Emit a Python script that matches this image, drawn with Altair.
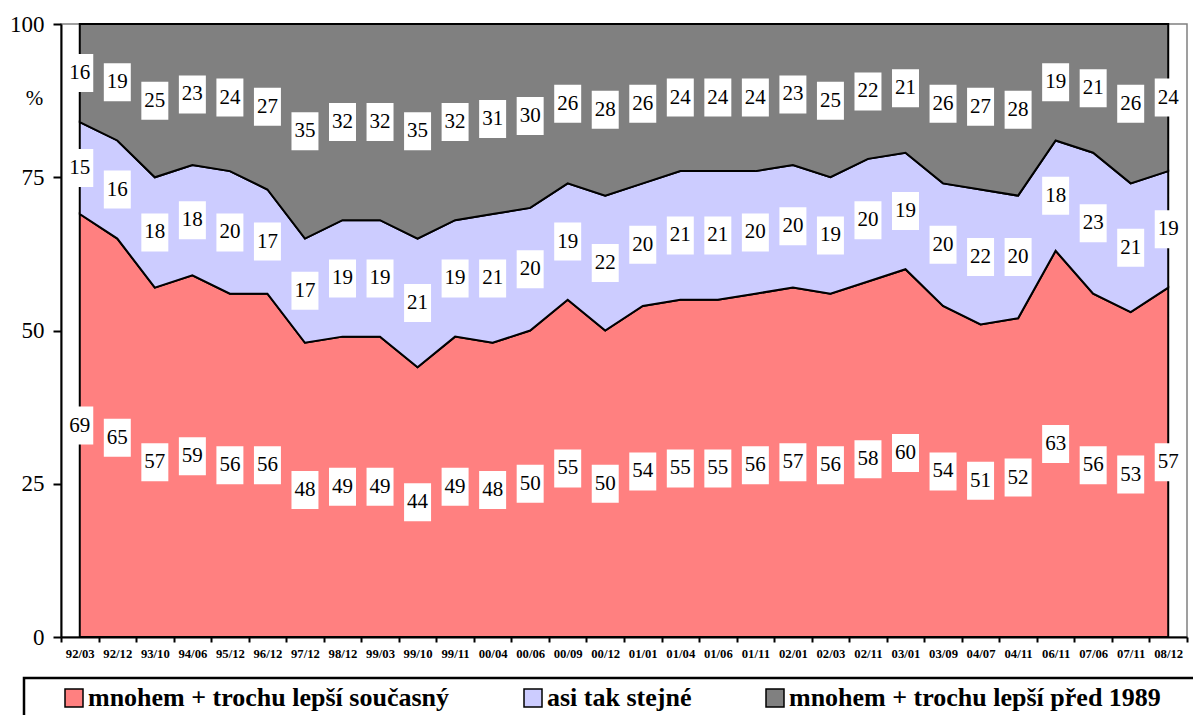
import altair as alt
import pandas as pd

dates = ["92/03", "92/12", "93/10", "94/06", "95/12", "96/12", "97/12", "98/12", "99/03", "99/10",
         "99/11", "00/04", "00/06", "00/09", "00/12", "01/01", "01/04", "01/06", "01/11", "02/01",
         "02/03", "02/11", "03/01", "03/09", "04/07", "04/11", "06/11", "07/06", "07/11", "08/12"]
current_better = [69, 65, 57, 59, 56, 56, 48, 49, 49, 44, 49, 48, 50, 55, 50, 54, 55, 55, 56, 57,
                  56, 58, 60, 54, 51, 52, 63, 56, 53, 57]
about_same = [15, 16, 18, 18, 20, 17, 17, 19, 19, 21, 19, 21, 20, 19, 22, 20, 21, 21, 20, 20,
              19, 20, 19, 20, 22, 20, 18, 23, 21, 19]
before_better = [16, 19, 25, 23, 24, 27, 35, 32, 32, 35, 32, 31, 30, 26, 28, 26, 24, 24, 24, 23,
                 25, 22, 21, 26, 27, 28, 19, 21, 26, 24]
series_names = ["mnohem + trochu lepší současný", "asi tak stejné", "mnohem + trochu lepší před 1989"]
series_colors = ["#FF8080", "#CCCCFF", "#808080"]
y_ticks = [0, 25, 50, 75, 100]

rows = []
for i, d in enumerate(dates):
    base = 0
    for k, vals in enumerate([current_better, about_same, before_better]):
        v = vals[i]
        rows.append({"date": d, "series": series_names[k], "ord": k, "value": v, "mid": base + v / 2})
        base += v
df = pd.DataFrame(rows)

FONT = "Liberation Serif"

x_enc = alt.X(
    "date:N", sort=dates, bandPosition=0.5,
    scale=alt.Scale(type="band", paddingInner=0, paddingOuter=0),
    axis=alt.Axis(title=None, labelAngle=0, labelFont=FONT, labelFontSize=12.7, labelFontWeight="bold",
                  labelColor="black", labelPadding=5, tickBand="extent", tickSize=5, tickWidth=2,
                  tickColor="black", domainColor="black", domainWidth=2, grid=False),
)

base = alt.Chart(df)

areas = base.mark_area(stroke="black", strokeWidth=2, strokeJoin="miter", opacity=1).encode(
    x=x_enc,
    y=alt.Y("value:Q", stack="zero",
            scale=alt.Scale(domain=[0, 100], nice=False, zero=True),
            axis=alt.Axis(values=y_ticks, title="%", titleAngle=0, titleX=-27, titleY=74,
                          titleAlign="center", titleBaseline="middle", titleFont=FONT,
                          titleFontSize=21, titleFontWeight="normal", titleColor="black",
                          labelFont=FONT, labelFontSize=23, labelColor="black", labelPadding=9,
                          tickSize=8, tickWidth=2, tickColor="black", domainColor="black",
                          domainWidth=2, grid=False)),
    color=alt.Color("series:N", scale=alt.Scale(domain=series_names, range=series_colors),
                    legend=alt.Legend(title=None, orient="none", direction="horizontal",
                                      legendX=0, legendY=661, padding=0, columns=3,
                                      symbolType="square", symbolSize=324, symbolStrokeColor="black",
                                      symbolStrokeWidth=1.5, symbolOffset=0, labelOffset=1,
                                      labelFont=FONT, labelFontSize=26, labelFontWeight="bold",
                                      labelColor="black", labelLimit=700, columnPadding=70)),
    order=alt.Order("ord:Q", sort="ascending"),
)

boxes = base.mark_point(
    shape="M-0.71,-1L0.71,-1L0.71,1L-0.71,1Z", size=1444, filled=True,
    fill="white", opacity=1, strokeWidth=0,
).encode(
    x=x_enc,
    y=alt.Y("mid:Q", stack=None),
)

labels = base.mark_text(font=FONT, fontSize=21, color="black", baseline="middle", align="center").encode(
    x=x_enc,
    y=alt.Y("mid:Q", stack=None),
    text=alt.Text("value:Q"),
)

legend_frame = alt.Chart(pd.DataFrame({"frame": [0]})).mark_rect(
    fill=None, stroke="black", strokeWidth=2.5
).encode(
    x=alt.value(-37), x2=alt.value(1160), y=alt.value(654), y2=alt.value(760)
)

chart = alt.layer(areas, boxes, labels, legend_frame).properties(
    width=1126, height=613,
    autosize=alt.AutoSizeParams(type="none"),
    padding={"left": 53, "top": 16, "right": 6, "bottom": 86},
    background="white",
).configure_view(stroke="#808080", strokeWidth=1.5)

chart.save("out.html", embed_options={"renderer": "svg", "actions": False})
